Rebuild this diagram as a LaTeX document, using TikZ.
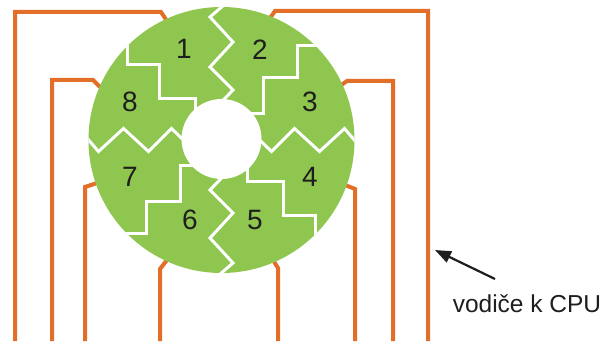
\documentclass[tikz,border=0pt]{standalone}
\usepackage{fontspec}
\setmainfont{Liberation Sans}
\usetikzlibrary{arrows.meta}
\definecolor{padgreen}{RGB}{142,198,80}
\definecolor{wireorange}{RGB}{226,110,40}
\definecolor{labelgray}{RGB}{30,30,30}
\begin{document}
\begin{tikzpicture}[x=1pt,y=-1pt,
  wire/.style={draw=wireorange,line width=4pt},
  gap/.style={draw=white,line width=3pt},
  padnum/.style={font=\fontsize{28}{28}\selectfont,text=labelgray,inner sep=0pt},
  ]
\useasboundingbox (0,0) rectangle (604,344);
\fill[white] (0,0) rectangle (604,344);

% contact points on the rim of the disc
\coordinate (p1) at (167,21);
\coordinate (p2) at (268,21);
\coordinate (p3) at (340,86);
\coordinate (p4) at (345,185);
\coordinate (p5) at (273,260);
\coordinate (p6) at (167,260);
\coordinate (p7) at (97,183);
\coordinate (p8) at (100,87);
% free ends of the leads
\coordinate (e1) at (15,341);
\coordinate (e2) at (428,341);
\coordinate (e3) at (393,341);
\coordinate (e4) at (355,341);
\coordinate (e5) at (278,341);
\coordinate (e6) at (160,341);
\coordinate (e7) at (85,341);
\coordinate (e8) at (52,341);

% leads
\draw[wire] (p1) -- (161,12) -- (15,12) -- (e1);
\draw[wire] (p2) -- (275,11) -- (428,11) -- (e2);
\draw[wire] (p3) -- (347,81) -- (393,81) -- (e3);
\draw[wire] (p4) -- (355,189) -- (e4);
\draw[wire] (p5) -- (278,268) -- (e5);
\draw[wire] (p6) -- (160,269) -- (e6);
\draw[wire] (p7) -- (85,187) -- (e7);
\draw[wire] (p8) -- (93,80) -- (52,80) -- (e8);

% the segmented disc
\node[circle,fill=padgreen,minimum size=266pt,inner sep=0pt] (disc) at (221.5,140) {};
\begin{scope}
  \clip (221.5,140) circle (133pt);
  \foreach \a in {0,90,180,270} {
    \draw[gap,shift={(221.5,140)},rotate=\a]
      (6,-138) -- (-11.5,-123) -- (11.5,-98) -- (-11.5,-73) -- (11.5,-50) -- (-2,-36);
    \draw[gap,shift={(221.5,140)},rotate=\a]
      (100,-94) -- (75.5,-94) -- (75.5,-62) -- (41.5,-62) -- (41.5,-26) -- (20,-26);
  }
\end{scope}
\node[circle,fill=white,minimum size=80pt,inner sep=0pt] (hole) at (221.5,139) {};

% segment numbers
\node[padnum] (n1) at (184,49) {1};
\node[padnum] (n2) at (260,50) {2};
\node[padnum] (n3) at (310,102) {3};
\node[padnum] (n4) at (310,177) {4};
\node[padnum] (n5) at (255,220) {5};
\node[padnum] (n6) at (190,220) {6};
\node[padnum] (n7) at (130,177) {7};
\node[padnum] (n8) at (130,102) {8};

% caption with pointer
\node[font=\fontsize{24.5}{24.5}\selectfont,text=labelgray,anchor=base,inner sep=0pt] (cpu) at (527,312) {vodiče k CPU};
\coordinate (tail) at (495,279);
\coordinate (tip) at (435,250);
\draw[draw=labelgray,line width=2.2pt,-{Triangle[length=16pt,width=12pt]}] (tail) -- (tip);
\end{tikzpicture}
\end{document}
